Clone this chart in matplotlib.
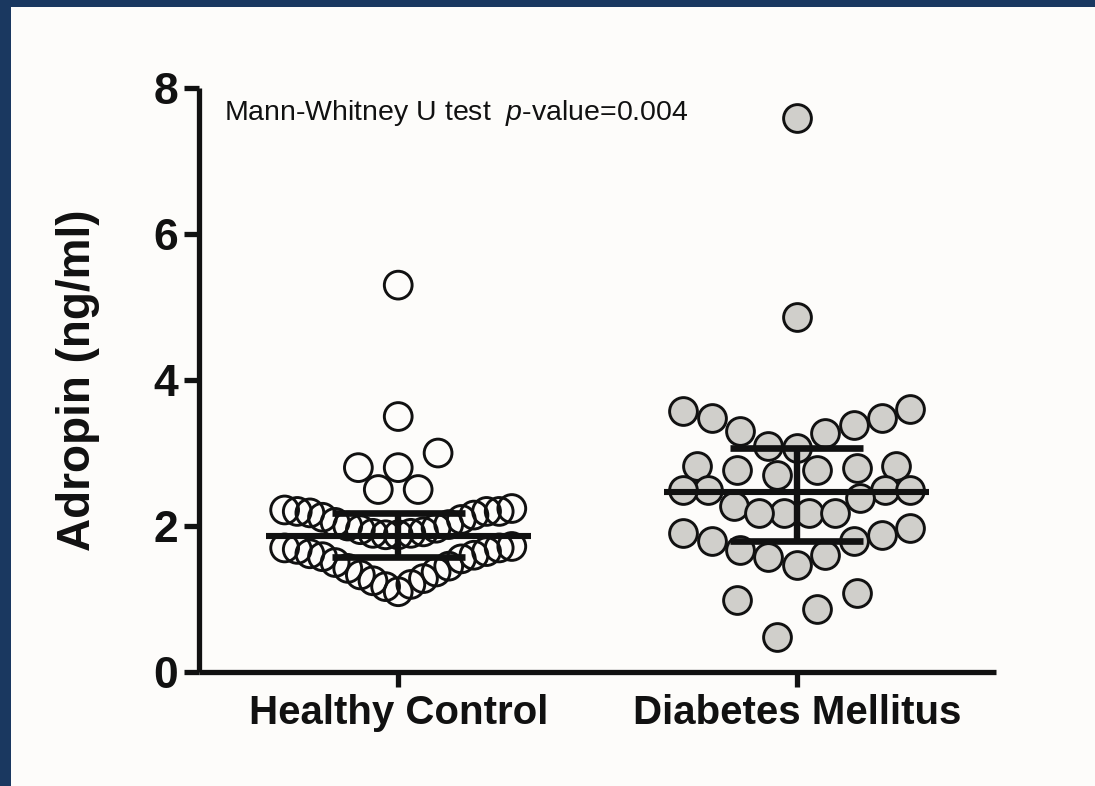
import numpy as np
import matplotlib
matplotlib.use('Agg')
import matplotlib.pyplot as plt
from matplotlib.patches import Rectangle

plt.rcParams['font.family'] = ['Liberation Sans', 'DejaVu Sans']
plt.rcParams['mathtext.fontset'] = 'custom'
plt.rcParams['mathtext.rm'] = 'Liberation Sans'
plt.rcParams['mathtext.it'] = 'Liberation Sans:italic'

# data
groups = ['Healthy Control', 'Diabetes Mellitus']

healthy = [5.3, 3.5, 3.0, 2.8, 2.8, 2.5, 2.5,
           2.24, 2.22, 2.2, 2.2, 2.2, 2.18, 2.15, 2.12, 2.09, 2.05,
           2.02, 2.0, 1.97, 1.95, 1.92, 1.9, 1.9, 1.88, 1.88,
           1.72, 1.7, 1.7, 1.68, 1.65, 1.62, 1.6, 1.58, 1.55, 1.5,
           1.45, 1.42, 1.37, 1.33, 1.28, 1.25, 1.2, 1.17, 1.1]

diabetes = [7.59, 4.87,
            3.60, 3.57, 3.48, 3.48, 3.39, 3.30, 3.28, 3.09, 3.07,
            2.82, 2.82, 2.79, 2.77, 2.77, 2.70,
            2.50, 2.50, 2.50, 2.50, 2.38, 2.27, 2.18, 2.18, 2.18, 2.18,
            1.97, 1.90, 1.88, 1.79, 1.79, 1.67, 1.60, 1.58, 1.47,
            1.08, 0.99, 0.87, 0.48]

# median and interquartile range as drawn
medians = [1.87, 2.47]
q1 = [1.57, 1.79]
q3 = [2.18, 3.07]

annotation = r'Mann-Whitney U test  $\it{p}$-value=0.004'

# rows used to lay the dots out side by side (Prism style)
healthy_rows = [0, 1.78, 2.3, 2.65, 3.2, 4.0, 6.0]
diabetes_rows = [0, 1.3, 2.05, 2.6, 2.95, 3.8, 6.0, 8.0]

SPREAD = 0.285
MAX_STEP = 0.1

NAVY = '#1a3860'
BG = '#fdfcfa'
INK = '#111111'
GREY = '#d0cfcb'


def row_offsets(values, edges):
    values = np.asarray(values, dtype=float)
    offsets = np.zeros(len(values))
    bins = np.digitize(values, edges)
    for b in np.unique(bins):
        idx = np.where(bins == b)[0]
        idx = idx[np.argsort(values[idx], kind='stable')]
        n = len(idx)
        if n == 1:
            continue
        step = min(MAX_STEP, 2 * SPREAD / (n - 1))
        slots = (np.arange(n) - (n - 1) / 2) * step
        # lowest value in the middle, then outwards, left first
        order = np.argsort(np.abs(slots) + 1e-9 * (slots > 0))
        offsets[idx] = slots[order]
    return offsets


fig = plt.figure(figsize=(10.95, 7.86), dpi=100, facecolor=BG)
ax = fig.add_axes([0.1817, 0.1450, 0.7279, 0.7430])
ax.set_facecolor(BG)

# navy frame on top and left
fig.patches.append(Rectangle((0, 1 - 7 / 786), 1, 7 / 786, transform=fig.transFigure,
                             facecolor=NAVY, edgecolor='none', zorder=10))
fig.patches.append(Rectangle((0, 0), 11 / 1095, 1, transform=fig.transFigure,
                             facecolor=NAVY, edgecolor='none', zorder=10))

xh = 0 + row_offsets(healthy, healthy_rows)
xd = 1 + row_offsets(diabetes, diabetes_rows)

ax.scatter(xh, healthy, s=400, facecolors='none', edgecolors=INK, linewidths=2.1, zorder=3)
ax.scatter(xd, diabetes, s=400, facecolors=GREY, edgecolors=INK, linewidths=2.1, zorder=3)

for i in range(len(groups)):
    ax.hlines(medians[i], i - 0.333, i + 0.333, color=INK, lw=4.4, zorder=5, capstyle='butt')
    ax.hlines([q1[i], q3[i]], i - 0.167, i + 0.167, color=INK, lw=4.8, zorder=5, capstyle='butt')
    ax.vlines(i, q1[i], q3[i], color=INK, lw=4.6, zorder=5, capstyle='butt')

ax.set_xlim(-0.5, 1.5)
ax.set_ylim(0, 8)
ax.set_xticks(range(len(groups)))
ax.set_xticklabels(groups, fontsize=29, fontweight='bold')
ax.set_yticks([0, 2, 4, 6, 8])
ax.set_yticklabels(['0', '2', '4', '6', '8'], fontsize=32, fontweight='bold')
ax.tick_params(axis='both', length=10.8, width=3.8, color=INK, labelcolor=INK)
ax.tick_params(axis='x', pad=5)
ax.tick_params(axis='y', pad=4)

for side in ['top', 'right']:
    ax.spines[side].set_visible(False)
for side in ['left', 'bottom']:
    ax.spines[side].set_linewidth(3.8)
    ax.spines[side].set_color(INK)
    ax.spines[side].set_capstyle('butt')

ax.set_ylabel('Adropin (ng/ml)', fontsize=33, fontweight='bold', color=INK)
ax.yaxis.set_label_coords(-0.124, 0.5)

ax.text(-0.437, 7.66, annotation, fontsize=20.5, color=INK, va='center', ha='left')

fig.savefig('out.png', dpi=100, facecolor=BG)
